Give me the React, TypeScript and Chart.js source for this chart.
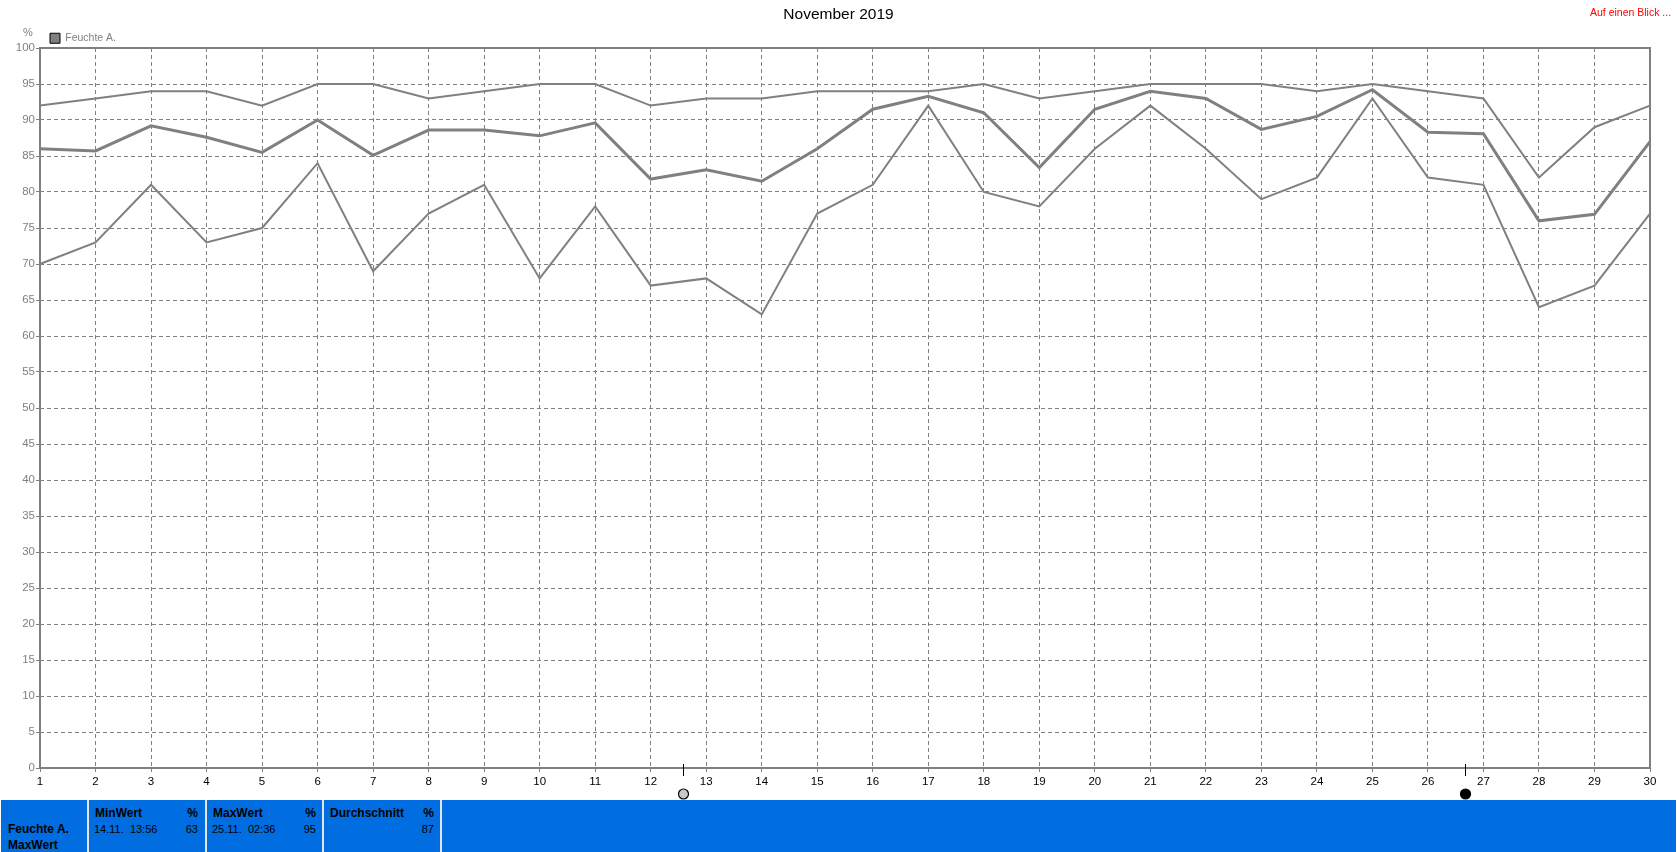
import React, { useEffect, useRef } from "react";
import { Chart, registerables } from "chart.js";

Chart.register(...registerables);

const days = [1,2,3,4,5,6,7,8,9,10,11,12,13,14,15,16,17,18,19,20,21,22,23,24,25,26,27,28,29,30];
const maxValues = [92,93,94,94,92,95,95,93,94,95,95,92,93,93,94,94,94,95,93,94,95,95,95,94,95,94,93,82,89,92];
const avgValues = [86,85.7,89.2,87.6,85.5,90,85.1,88.6,88.6,87.8,89.6,81.8,83.1,81.5,86,91.5,93.3,91,83.4,91.5,94,93,88.7,90.5,94.2,88.3,88.1,76,76.9,87];
const minValues = [70,73,81,73,75,84,69,77,81,68,78,67,68,63,77,81,92,80,78,86,92,86,79,82,93,82,81,64,67,77];
const moonDays = [12.59, 26.67];
const moonFill = ["#c8c8c8", "#000000"];
const seriesLabel = "Feuchte A.";
const titleText = "November 2019";

const FONT = '"Liberation Sans", Arial, sans-serif';
const GREY = "#808080";
const BLUE = "#006EE0";

const statColumns = [
  { head: "MinWert", unit: "%", when: "14.11.  13:56", value: "63", left: 89, width: 116 },
  { head: "MaxWert", unit: "%", when: "25.11.  02:36", value: "95", left: 207, width: 116 },
  { head: "Durchschnitt", unit: "%", when: "", value: "87", left: 324, width: 117 },
];
const separators = [87, 205, 322, 440];

const frame = {
  id: "frame",
  beforeDatasetsDraw(chart: any) {
    const { ctx, chartArea: a } = chart;
    ctx.save();
    ctx.strokeStyle = GREY;
    ctx.lineWidth = 2;
    ctx.strokeRect(a.left, a.top, a.right - a.left, a.bottom - a.top);
    ctx.restore();
  },
  afterDatasetsDraw(chart: any) {
    const { ctx, chartArea: a, scales } = chart;
    ctx.save();
    moonDays.forEach((d, i) => {
      const x = Math.round(scales.x.getPixelForValue(d)) + 0.5;
      ctx.strokeStyle = "#000";
      ctx.lineWidth = 1;
      ctx.beginPath();
      ctx.moveTo(x, a.bottom - 4);
      ctx.lineTo(x, a.bottom + 8);
      ctx.stroke();
      ctx.beginPath();
      ctx.arc(x, a.bottom + 26, 5, 0, Math.PI * 2);
      ctx.fillStyle = moonFill[i];
      ctx.fill();
      ctx.lineWidth = 1.2;
      ctx.stroke();
    });
    ctx.restore();
  },
};

export default function App() {
  const ref = useRef<HTMLCanvasElement>(null);
  useEffect(() => {
    document.body.style.margin = "0";
    const chart = new Chart(ref.current as HTMLCanvasElement, {
      type: "line",
      data: {
        datasets: [
          { label: seriesLabel, data: maxValues.map((y, i) => ({ x: days[i], y })), borderColor: GREY, borderWidth: 2, pointRadius: 0, tension: 0, clip: false },
          { label: seriesLabel + " avg", data: avgValues.map((y, i) => ({ x: days[i], y })), borderColor: GREY, borderWidth: 3, pointRadius: 0, tension: 0, clip: false },
          { label: seriesLabel + " min", data: minValues.map((y, i) => ({ x: days[i], y })), borderColor: GREY, borderWidth: 2, pointRadius: 0, tension: 0, clip: false },
        ],
      } as any,
      options: {
        responsive: false,
        animation: false,
        layout: { padding: 0 },
        plugins: {
          tooltip: { enabled: false },
          title: {
            display: true,
            text: titleText,
            color: "#000",
            font: { family: FONT, size: 15.5, weight: "normal", lineHeight: 1 },
            padding: { top: 7, bottom: 0.5 },
          },
          legend: {
            display: true,
            position: "top",
            align: "start",
            fullSize: false,
            maxHeight: 25,
            labels: {
              boxWidth: 10,
              boxHeight: 10,
              padding: 10,
              color: GREY,
              font: { family: FONT, size: 10.5 },
              generateLabels: () => [
                { text: seriesLabel, fillStyle: GREY, strokeStyle: "#000", lineWidth: 1, fontColor: GREY, datasetIndex: 0 },
              ],
            },
          },
        },
        scales: {
          x: {
            type: "linear",
            min: 1,
            max: 30,
            afterFit: (s: any) => { s.height = 84; },
            ticks: { stepSize: 1, color: "#000", font: { family: FONT, size: 11.5 }, padding: 3, maxRotation: 0, autoSkip: false, callback: (v: any) => String(v) },
            grid: { color: GREY, lineWidth: 1, tickLength: 4, tickColor: GREY, tickBorderDash: [] },
            border: { display: false, dash: [4, 3] },
          },
          y: {
            min: 0,
            max: 100,
            afterFit: (s: any) => { s.width = 40; },
            ticks: { stepSize: 5, color: GREY, font: { family: FONT, size: 11.5 }, padding: 1, autoSkip: false },
            grid: { color: GREY, lineWidth: 1, tickLength: 4, tickColor: GREY, tickBorderDash: [] },
            border: { display: false, dash: [4, 3] },
          },
          rightMargin: {
            axis: "y",
            position: "right",
            min: 0,
            max: 100,
            afterFit: (s: any) => { s.width = 27; },
            ticks: { display: false },
            grid: { display: false, drawTicks: false },
            border: { display: false },
          },
        },
      } as any,
      plugins: [frame],
    });
    return () => chart.destroy();
  }, []);

  const text = (extra: React.CSSProperties): React.CSSProperties => ({
    position: "absolute",
    font: `12px ${FONT}`,
    color: "#000",
    whiteSpace: "pre",
    lineHeight: "14px",
    ...extra,
  });

  return (
    <div style={{ position: "relative", width: 1677, height: 852, overflow: "hidden", background: "#fff" }}>
      <canvas ref={ref} width={1677} height={852} style={{ display: "block" }} />
      <div style={text({ left: 1590, top: 5, color: "#ff0000", fontSize: 10.5 })}>Auf einen Blick ...</div>
      <div style={text({ left: 23, top: 25, color: GREY, fontSize: 11 })}>%</div>
      <div style={{ position: "absolute", left: 1, top: 800, width: 1675, height: 52, background: BLUE }}>
        <div style={text({ left: 7, top: 22, fontWeight: "bold" })}>{seriesLabel}</div>
        <div style={text({ left: 7, top: 38, fontWeight: "bold" })}>MaxWert</div>
        {separators.map((x) => (
          <div key={x} style={{ position: "absolute", left: x - 1, top: 0, width: 2, height: 52, background: "#e4e4e4" }} />
        ))}
      </div>
      {statColumns.map((c) => (
        <div key={c.head} style={{ position: "absolute", left: c.left, top: 800, width: c.width, height: 52 }}>
          <div style={text({ left: 6, top: 6, fontWeight: "bold" })}>{c.head}</div>
          <div style={text({ right: 7, top: 6, fontWeight: "bold" })}>{c.unit}</div>
          <div style={text({ left: 5, top: 22, fontSize: 11 })}>{c.when}</div>
          <div style={text({ right: 7, top: 22, fontSize: 11 })}>{c.value}</div>
        </div>
      ))}
    </div>
  );
}
